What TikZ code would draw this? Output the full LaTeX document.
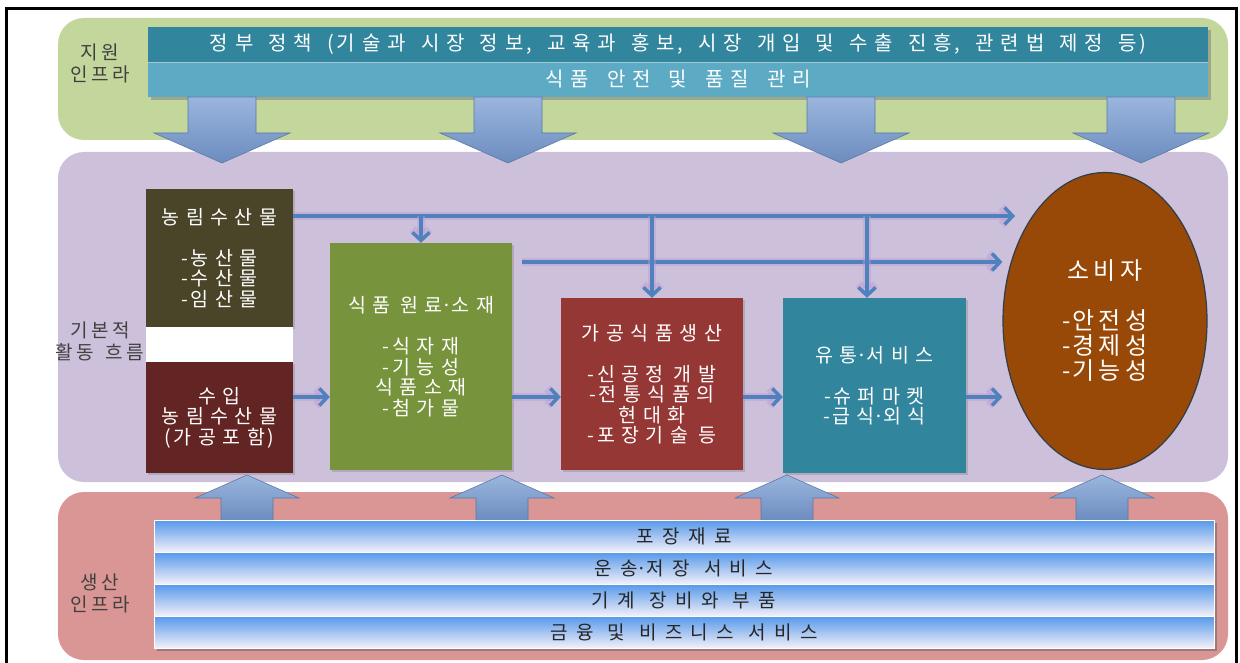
\documentclass[tikz,border=0pt]{standalone}
\usepackage{fontspec}
\setmainfont{Noto Sans CJK KR}
\usetikzlibrary{arrows.meta,shapes.geometric,shadows}
% tracking between Hangul syllables via interchar tokens
\XeTeXinterchartokenstate=1
\newcount\hgcnt
\hgcnt="AC00
\loop
  \XeTeXcharclass\hgcnt=11
  \advance\hgcnt by 1
\ifnum\hgcnt<"D7A4 \repeat
\newdimen\hggap
\XeTeXinterchartoks 11 11 = {\kern\hggap}
\XeTeXinterchartoks 11 0 = {\kern0.4\hggap}
\XeTeXinterchartoks 0 11 = {\kern0.4\hggap}
\newcommand{\krfont}[4]{\fontsize{#1}{#2}\selectfont\hggap=#3pt\relax\spaceskip=#4pt\relax}
\newcommand{\kdot}{\makebox[0.45em]{·}}
\definecolor{greenband}{HTML}{C3D69B}
\definecolor{purpleband}{HTML}{CCC0DA}
\definecolor{pinkband}{HTML}{DA9694}
\definecolor{tbdark}{HTML}{31859C}
\definecolor{tblight}{HTML}{5DAAC4}
\definecolor{nongc}{HTML}{4A4429}
\definecolor{suipc}{HTML}{632523}
\definecolor{wonc}{HTML}{77933C}
\definecolor{gagc}{HTML}{953735}
\definecolor{yutc}{HTML}{31859C}
\definecolor{sobic}{HTML}{984807}
\definecolor{sobiedge}{HTML}{2F3E4A}
\definecolor{flowblue}{HTML}{4F81BD}
\definecolor{glowc}{HTML}{B99BD6}
\definecolor{blktop}{HTML}{9AB6DE}
\definecolor{blkbot}{HTML}{6C8CBF}
\definecolor{blkedge}{HTML}{5A78A8}
\definecolor{barblue}{HTML}{5598EA}
\definecolor{barlight}{HTML}{F3F0F8}
\definecolor{labelc}{HTML}{404040}
\definecolor{bartext}{HTML}{262626}
\tikzset{
  band/.style={rounded corners=26pt, inner sep=0pt},
  sidelabel/.style={text=labelc, align=center, inner sep=0pt, font=\krfont{19}{22}{3.4}{12}},
  topbar/.style={minimum width=1060pt, minimum height=35pt, inner sep=0pt, text=white,
    drop shadow={shadow xshift=3pt, shadow yshift=-3pt, opacity=.55}},
  botbar/.style={minimum width=1060pt, minimum height=32pt, inner sep=0pt, text=bartext,
    top color=barblue, bottom color=barlight, draw=white, line width=0.8pt,
    font=\krfont{19}{22}{8.5}{14}},
  fbox/.style={inner sep=0pt, text=white, align=center, font=\krfont{19.5}{20.5}{6.5}{10},
    drop shadow={shadow xshift=2pt, shadow yshift=-2pt, opacity=.35}},
  blkarrow/.style={top color=blktop, bottom color=blkbot, draw=blkedge, line width=0.6pt},
  flow/.style={draw=flowblue, line width=3.5pt, -{Straight Barb[length=8pt,width=17pt]},
    preaction={draw=glowc, line width=8pt, opacity=.45, -{Straight Barb[length=8pt,width=17pt]}}},
  branch/.style={flow}
}
\begin{document}
\begin{tikzpicture}[x=1pt,y=-1pt]
\useasboundingbox (0,0) rectangle (1240,663);
\fill[white] (0,0) rectangle (1240,663);

% bands
\node[band, fill=greenband, minimum width=1170pt, minimum height=122pt] (supband) at (643,79) {};
\node[band, fill=purpleband, minimum width=1170pt, minimum height=330pt] (flowband) at (643,317) {};
\node[band, fill=pinkband, minimum width=1170pt, minimum height=168pt] (prodband) at (643,576) {};

% frame
\draw[line width=3pt] (6.5,700) -- (6.5,8.5) -- (1236.5,8.5) -- (1236.5,700);

% side labels
\node[sidelabel] (lab1) at (100,63) {지원\\인프라};
\node[sidelabel] (lab2) at (100,341) {기본적\\활동 흐름};
\node[sidelabel] (lab3) at (100,593) {생산\\인프라};

% top bars
\node[topbar, fill=tbdark, font=\krfont{20}{22}{7}{15}] (policy) at (678,44.5) {정부 정책 (기술과 시장 정보, 교육과 홍보, 시장 개입 및 수출 진흥, 관련법 제정 등)};
\node[topbar, fill=tblight, font=\krfont{20}{22}{7}{18}] (safety) at (678,79.5) {식품 안전 및 품질 관리};
\draw[white!55!tbdark, line width=1pt] (policy.south west) -- (policy.south east);

% down block arrows
\foreach \cx in {222,508,841,1141}{
  \path[blkarrow] (\cx-34,97) -- (\cx+34,97) -- (\cx+34,133) -- (\cx+68,133) -- (\cx,163)
     -- (\cx-68,133) -- (\cx-34,133) -- cycle;
}

% up block arrows
\foreach \cx in {247,502,787,1102}{
  \path[blkarrow] (\cx-26,521) -- (\cx-26,498) -- (\cx-52,498) -- (\cx,475) -- (\cx+52,498)
     -- (\cx+26,498) -- (\cx+26,521) -- cycle;
}

% bottom bars
\fill[black!60, opacity=.55] (157,523) rectangle (1217,651);
\node[botbar] (pack) at (684,536) {포장재료};
\node[botbar] (trans) at (684,568) {운송\kdot 저장 서비스};
\node[botbar] (mach) at (684,600) {기계 장비와 부품};
\node[botbar] (fin) at (684,632) {금융 및 비즈니스 서비스};

% flow boxes
\node[fbox, fill=nongc, minimum width=147pt, minimum height=138pt] (nong) at (219.5,258)
  {농림수산물\\[20.5pt]-농산물\\-수산물\\-임산물};
\node[fill=white, minimum width=147pt, minimum height=35pt, inner sep=0pt] (gapbox) at (219.5,344.5) {};
\node[fbox, fill=suipc, minimum width=147pt, minimum height=111pt] (suip) at (219.5,417.5)
  {수입\\농림수산물\\(가공포함)};
\node[fbox, fill=wonc, minimum width=182pt, minimum height=227pt] (wonryo) at (421,356.5)
  {식품 원료\kdot 소재\\[20.5pt]-식자재\\-기능성\\식품소재\\-첨가물};
\node[fbox, fill=gagc, minimum width=182pt, minimum height=172pt] (gagong) at (652,384)
  {가공식품생산\\[20.5pt]-신공정 개발\\-전통식품의\\현대화\\-포장기술 등};
\node[fbox, fill=yutc, minimum width=183pt, minimum height=175pt] (yutong) at (874.5,385.5)
  {유통\kdot 서비스\\[20.5pt]-슈퍼마켓\\-급식\kdot 외식};
\node[ellipse, fill=sobic, draw=sobiedge, line width=1.2pt, minimum width=204pt, minimum height=297pt,
  inner sep=0pt, text=white, align=center, font=\krfont{24}{25}{4}{8}] (sobi) at (1105,321)
  {소비자\\[25pt]-안전성\\-경제성\\-기능성};

% flow connectors
\coordinate (s1) at (nong.east |- 0,216);
\coordinate (e1) at (1015,216);
\coordinate (s2) at (522,262);
\coordinate (j1) at (wonryo.north |- 0,216);
\coordinate (j2) at (gagong.north |- 0,216);
\coordinate (j3) at (867,216);
\draw[flow] (s1) -- (e1);
\draw[flow] (s2) -- (sobi.west |- s2);
\draw[branch] (j1) -- (wonryo.north);
\draw[branch] (j2) -- (gagong.north);
\draw[branch] (j3) -- (j3 |- yutong.north);
\draw[flow] (suip.east |- 0,397) -- (wonryo.west |- 0,397);
\draw[flow] (wonryo.east |- 0,397) -- (gagong.west |- 0,397);
\draw[flow] (gagong.east |- 0,397) -- (yutong.west |- 0,397);
\draw[flow] (yutong.east |- 0,397) -- (sobi.west |- 0,397);
\end{tikzpicture}
\end{document}
